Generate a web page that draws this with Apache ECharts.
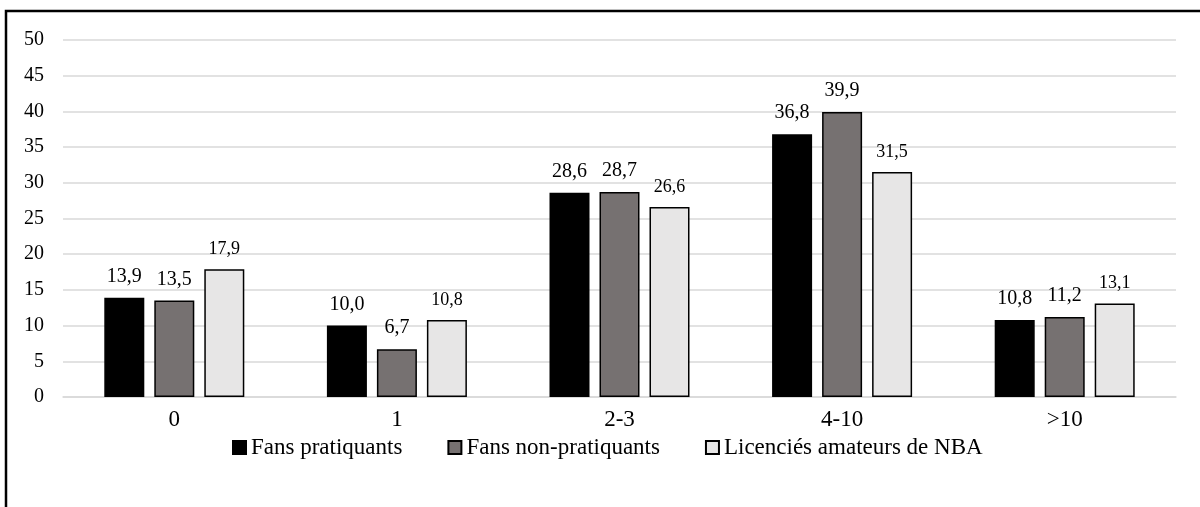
<!DOCTYPE html>
<html>
<head>
<meta charset="utf-8">
<script src="https://cdn.jsdelivr.net/npm/echarts@6/dist/echarts.min.js"></script>
<style>html,body{margin:0;padding:0;background:#fff;}#c{width:1200px;height:507px;}</style>
</head>
<body>
<div id="c"></div>
<script>
const categories = ['0', '1', '2-3', '4-10', '>10'];
const fansPratiquants = [13.9, 10.0, 28.6, 36.8, 10.8];
const fansNonPratiquants = [13.5, 6.7, 28.7, 39.9, 11.2];
const licencies = [17.9, 10.8, 26.6, 31.5, 13.1];
const seriesNames = ['Fans pratiquants', 'Fans non-pratiquants', 'Licenciés amateurs de NBA'];
const yTicks = [0, 5, 10, 15, 20, 25, 30, 35, 40, 45, 50];

const font = '"Liberation Serif", "Times New Roman", serif';
const fmt = p => p.value.toFixed(1).replace('.', ',');

function mk(name, data, color, labelSize) {
  return {
    name: name, type: 'bar', data: data,
    barWidth: 40, barGap: '25%',
    itemStyle: { color: color, borderColor: '#000', borderWidth: 1.5 },
    label: { show: true, position: 'top', distance: 11, formatter: fmt,
      fontFamily: font, fontSize: labelSize, color: '#000' }
  };
}

const chart = echarts.init(document.getElementById('c'));
chart.setOption({
  animation: false,
  backgroundColor: '#fff',
  graphic: [{ type: 'rect', shape: { x: 6, y: 11, width: 1400, height: 700 },
    style: { fill: 'none', stroke: '#000', lineWidth: 2.5 }, z: 100 }],
  grid: { left: 63, right: 24, top: 40, bottom: 110 },
  legend: {
    top: 431, left: 227,
    itemWidth: 13, itemHeight: 13, itemGap: 45,
    icon: 'rect',
    textStyle: { fontFamily: font, fontSize: 23, color: '#000' },
    data: seriesNames
  },
  xAxis: {
    type: 'category', data: categories,
    axisLine: { show: true, lineStyle: { color: '#d9d9d9', width: 1.5 } },
    axisTick: { show: false },
    axisLabel: { fontFamily: font, fontSize: 23, color: '#000', margin: 11 }
  },
  yAxis: {
    type: 'value', min: yTicks[0], max: yTicks[yTicks.length - 1], interval: 5,
    axisLine: { show: false }, axisTick: { show: false },
    axisLabel: { fontFamily: font, fontSize: 20, color: '#000', margin: 19 },
    splitLine: { lineStyle: { color: '#d9d9d9', width: 1.5 } }
  },
  series: [
    mk(seriesNames[0], fansPratiquants, '#000000', 20),
    mk(seriesNames[1], fansNonPratiquants, '#767171', 20),
    mk(seriesNames[2], licencies, '#e7e6e6', 18)
  ]
});
</script>
</body>
</html>
